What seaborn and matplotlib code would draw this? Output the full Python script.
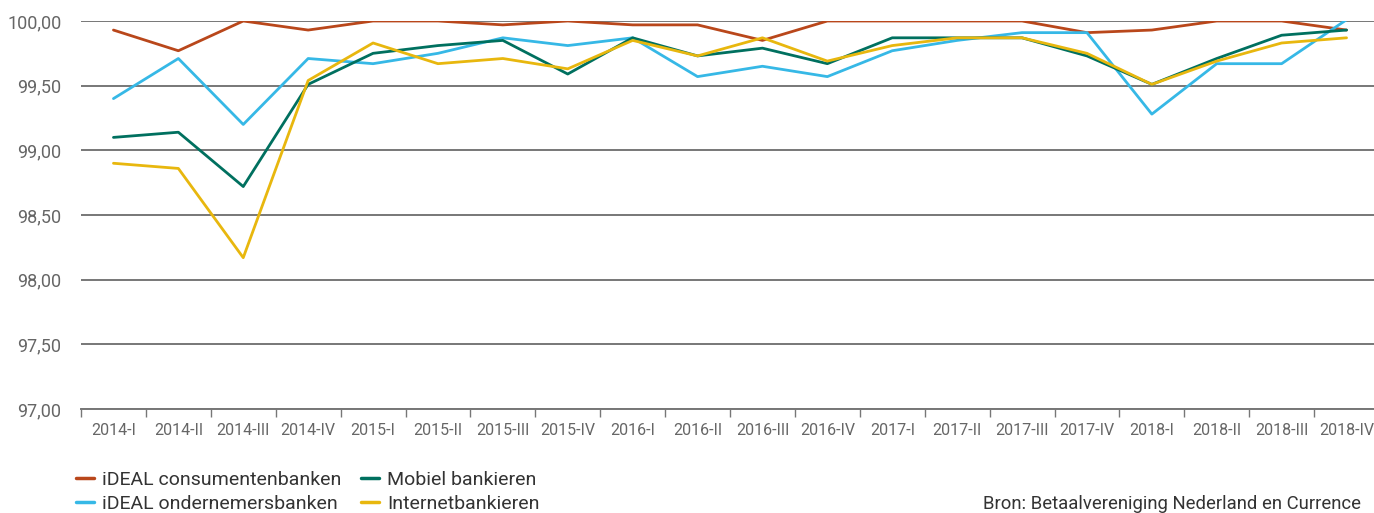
import numpy as np
import pandas as pd
import matplotlib
matplotlib.use("Agg")
import matplotlib.pyplot as plt
import seaborn as sns
from matplotlib.ticker import FixedLocator, FuncFormatter, NullFormatter
from matplotlib.lines import Line2D

quarters = ["2014-I", "2014-II", "2014-III", "2014-IV",
            "2015-I", "2015-II", "2015-III", "2015-IV",
            "2016-I", "2016-II", "2016-III", "2016-IV",
            "2017-I", "2017-II", "2017-III", "2017-IV",
            "2018-I", "2018-II", "2018-III", "2018-IV"]

ideal_consument = [99.93, 99.77, 100.00, 99.93, 100.00, 100.00, 99.97, 100.00,
                   99.97, 99.97, 99.85, 100.00, 100.00, 100.00, 100.00, 99.91,
                   99.93, 100.00, 100.00, 99.93]
ideal_ondernemer = [99.40, 99.71, 99.20, 99.71, 99.67, 99.75, 99.87, 99.81,
                    99.87, 99.57, 99.65, 99.57, 99.77, 99.85, 99.91, 99.91,
                    99.28, 99.67, 99.67, 100.01]
mobiel = [99.10, 99.14, 98.72, 99.51, 99.75, 99.81, 99.85, 99.59,
          99.87, 99.73, 99.79, 99.67, 99.87, 99.87, 99.87, 99.73,
          99.51, 99.71, 99.89, 99.93]
internet = [98.90, 98.86, 98.17, 99.54, 99.83, 99.67, 99.71, 99.63,
            99.85, 99.73, 99.87, 99.69, 99.81, 99.87, 99.87, 99.75,
            99.51, 99.69, 99.83, 99.87]

series_names = ["iDEAL consumentenbanken", "iDEAL ondernemersbanken",
                "Mobiel bankieren", "Internetbankieren"]
series_values = [ideal_consument, ideal_ondernemer, mobiel, internet]
colors = ["#B9471B", "#36B8E6", "#00705F", "#E8B70E"]

yticks = [97.0, 97.5, 98.0, 98.5, 99.0, 99.5, 100.0]

rows = []
for name, vals in zip(series_names, series_values):
    for i, (q, v) in enumerate(zip(quarters, vals)):
        rows.append({"pos": i, "quarter": q, "serie": name, "waarde": v})
df = pd.DataFrame(rows)

sns.set_theme(style="white")
plt.rcParams["font.family"] = ["Roboto", "DejaVu Sans"]

fig = plt.figure(figsize=(13.74, 5.13), dpi=100)
W, H = 1374, 513
ax = fig.add_axes([81 / W, 1 - 409 / H, (1379 - 81) / W, (409 - 21) / H])

sns.lineplot(data=df, x="pos", y="waarde", hue="serie", hue_order=series_names,
             palette=colors, linewidth=2.0, ax=ax, legend=False, sort=False,
             estimator=None, zorder=3)

ax.set_xlim(-0.5, len(quarters) - 0.5)
ax.set_ylim(97.0, 100.0)
ax.set_yticks(yticks)
ax.yaxis.set_major_formatter(FuncFormatter(lambda v, p: f"{v:.2f}".replace(".", ",")))
ax.grid(axis="y", color="#777777", linewidth=1.4, zorder=1)
ax.grid(axis="x", visible=False)
ax.set_axisbelow(True)

for s in ["top", "right", "left"]:
    ax.spines[s].set_visible(False)
ax.spines["bottom"].set_color("#777777")
ax.spines["bottom"].set_linewidth(1.4)

ax.xaxis.set_major_locator(FixedLocator(np.arange(-0.5, len(quarters), 1.0)))
ax.xaxis.set_major_formatter(NullFormatter())
ax.xaxis.set_minor_locator(FixedLocator(np.arange(len(quarters))))
ax.xaxis.set_minor_formatter(FuncFormatter(lambda v, p: quarters[int(round(v))] if 0 <= int(round(v)) < len(quarters) else ""))
ax.tick_params(axis="x", which="major", length=6, width=1.0, color="#777777", direction="out", bottom=True)
ax.tick_params(axis="x", which="minor", length=0, labelsize=11.5, labelcolor="#666666", pad=10)
ax.tick_params(axis="y", length=0, labelsize=13, labelcolor="#666666", pad=14)
ax.set_xlabel("")
ax.set_ylabel("")

handles = [Line2D([0], [0], color=c, linewidth=2.5) for c in colors]
leg = fig.legend(handles, series_names,
                 ncol=2, loc="center left", bbox_to_anchor=(76 / W, 1 - 492 / H),
                 frameon=False, fontsize=14, handlelength=0.9, handletextpad=0.45,
                 columnspacing=1.0, labelspacing=0.3, borderaxespad=0, borderpad=0)
for t in leg.get_texts():
    t.set_color("#333333")

fig.text(983 / W, 1 - 504 / H, "Bron: Betaalvereniging Nederland en Currence",
         ha="left", va="center", fontsize=13.3, color="#333333")

fig.savefig("out.png", dpi=100)
